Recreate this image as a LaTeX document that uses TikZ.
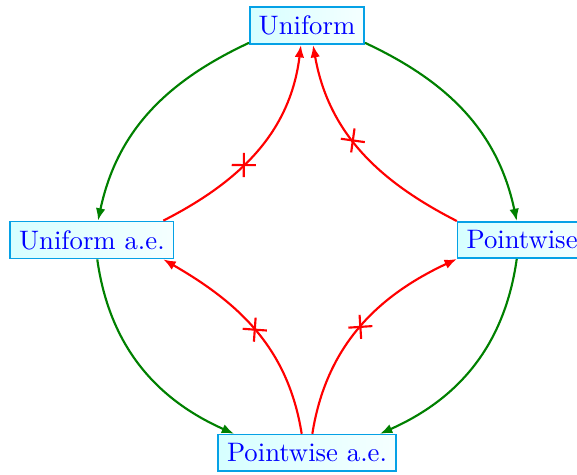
\documentclass[tikz,border=0pt]{standalone}
\usepackage{tikz}
\usetikzlibrary{arrows.meta,decorations.markings}

\begin{document}
\begin{tikzpicture}[
  mode/.style={draw=cyan!90!blue,semithick,left color=cyan!16,right color=cyan!4,text=blue,inner sep=3.33pt},
  imp/.style={-{Latex[length=4.6pt,width=3.6pt]},thick,color=green!50!black},
  nimp/.style={-{Latex[length=4.6pt,width=3.6pt]},thick,color=red,
    decoration={markings,mark=at position #1 with {
      \draw[-,thick,red] (-3.2pt,-3.2pt) -- (3.2pt,3.2pt);
      \draw[-,thick,red] (-3.2pt,3.2pt) -- (3.2pt,-3.2pt);}},
    postaction={decorate}},
  nimp/.default=0.5
]
\useasboundingbox (-4.04,-3.092) rectangle (3.553,3.158);

% the four modes of convergence
\node[mode] (uni) at (0,2.82) {Uniform};
\node[mode] (uniae) at (-2.83,0) {Uniform a.e.};
\node[mode] (pw) at (2.83,0) {Pointwise};
\node[mode] (pwae) at (0,-2.80) {Pointwise a.e.};

% implications
\draw[imp] ([yshift=0.03cm]uni.south west) to[out=205,in=78] ([xshift=0.08cm]uniae.north);
\draw[imp] ([xshift=0.07cm]uniae.south) to[out=-82,in=156] ([xshift=0.22cm]pwae.north west);
\draw[imp] ([yshift=0.03cm]uni.south east) to[out=-25,in=102] ([xshift=-0.07cm]pw.north);
\draw[imp] ([xshift=-0.07cm]pw.south) to[out=-98,in=24] ([xshift=-0.22cm]pwae.north east);

% non-implications
\draw[nimp=0.42] ([xshift=-0.145cm]uniae.north east) to[out=27,in=-97] ([xshift=-0.08cm]uni.south);
\draw[nimp=0.56] (pw.north west) to[out=153,in=-80] ([xshift=0.08cm]uni.south);
\draw[nimp] ([xshift=-0.07cm]pwae.north) to[out=99,in=-30] ([xshift=-0.145cm]uniae.south east);
\draw[nimp] ([xshift=0.07cm]pwae.north) to[out=81,in=205] (pw.south west);
\end{tikzpicture}
\end{document}
